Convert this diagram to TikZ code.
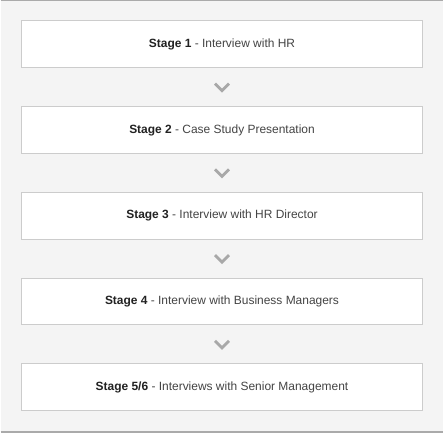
\documentclass[tikz,border=0pt]{standalone}
\usepackage{fontspec}
\setmainfont{Liberation Sans}
\usetikzlibrary{positioning,calc}
\definecolor{pagebg}{HTML}{F4F4F4}
\definecolor{boxline}{HTML}{CCCCCC}
\definecolor{ruleline}{HTML}{AAAAAA}
\definecolor{chevgray}{HTML}{A8A8A8}
\definecolor{stagetext}{HTML}{444444}
\definecolor{stagehead}{HTML}{222222}
\newcommand{\stagelabel}[2]{\textcolor{stagehead}{\textbf{#1}} - #2}
\begin{document}
\begin{tikzpicture}[x=1pt,y=-1pt,
        stagebox/.style={draw=boxline,fill=white,line width=1pt,
            minimum width=403pt,minimum height=47pt,inner sep=0pt,outer sep=0pt,
            text=stagetext,font=\fontsize{12}{14}\selectfont},
        chevron/.style={draw=chevgray,line width=2.8pt},
        node distance=39pt]
                \fill[pagebg]
                    (0,0) rectangle (444,434);
                \draw[ruleline,line width=1.5pt]
                    (0,0.75) -- (444,0.75);
                \draw[ruleline,line width=1.5pt]
                    (0,433.25) -- (444,433.25);
                \node[stagebox] (s1) at (222,44.5) {\stagelabel{Stage 1}{Interview with HR}};
                \node[stagebox,below=of s1] (s2) {\stagelabel{Stage 2}{Case Study Presentation}};
                \node[stagebox,below=of s2] (s3) {\stagelabel{Stage 3}{Interview with HR Director}};
                \node[stagebox,below=of s3] (s4) {\stagelabel{Stage 4}{Interview with Business Managers}};
                \node[stagebox,below=of s4] (s5) {\stagelabel{Stage 5/6}{Interviews with Senior Management}};
                \foreach \i/\j in {1/2,2/3,3/4,4/5}
                    \draw[chevron]
                        ($(s\i.south)!0.5!(s\j.north)+(-7,-3.5)$) -- ++(7,7) -- ++(7,-7);
            \end{tikzpicture}
\end{document}
